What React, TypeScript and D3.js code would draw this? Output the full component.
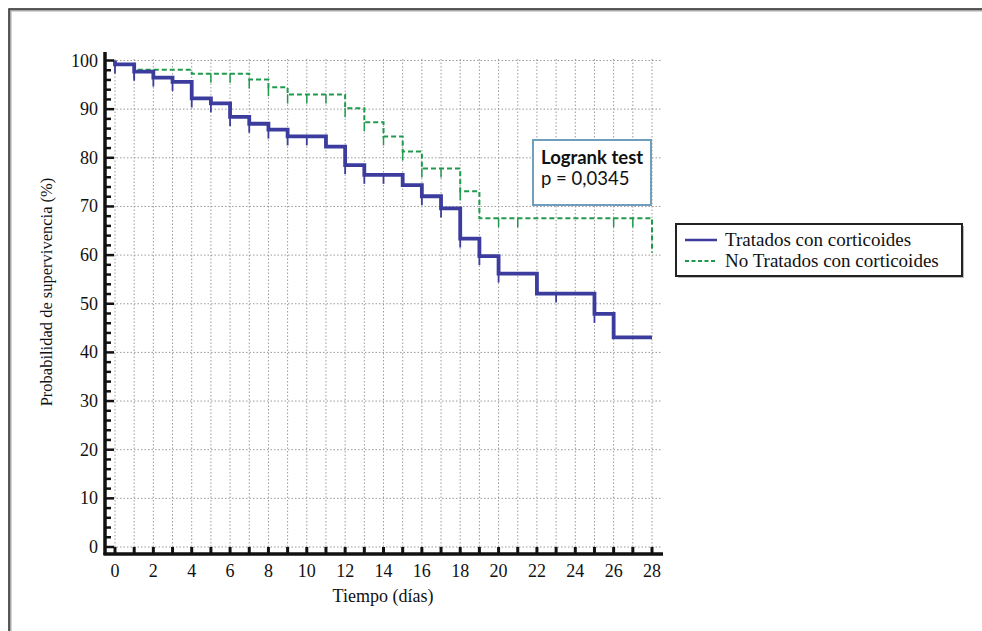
import * as d3 from 'd3';

// Survival (%) over each day interval [d, d+1), d = 0..27
const DAYS = d3.range(0, 28);
const TREATED = [99.2, 97.7, 96.5, 95.6, 92.2, 91.2, 88.4, 87.0, 85.8, 84.4, 84.4, 82.3, 78.5, 76.5, 76.5, 74.4, 72.1, 69.6, 63.4, 59.8, 56.2, 56.2, 52.1, 52.1, 52.1, 47.9, 43.1, 43.1];
const UNTREATED = [99.2, 98.1, 98.1, 98.1, 97.3, 97.3, 97.3, 96.1, 94.5, 93.0, 93.0, 93.0, 90.2, 87.3, 84.4, 81.3, 77.8, 77.8, 73.1, 67.6, 67.6, 67.6, 67.6, 67.6, 67.6, 67.6, 67.6, 67.6];
const TREATED_END = 43.1;
const UNTREATED_END = 60.5;

// censored observations (days)
const TREATED_CENSOR = [0, 1, 2, 3, 4, 5, 6, 7, 8, 9, 10, 12, 13, 14, 16, 17, 18, 19, 20, 23, 25];
const UNTREATED_CENSOR = [1, 2, 5, 6, 7, 8, 9, 10, 11, 12, 13, 14, 15, 16, 17, 18, 20, 21, 26, 27];

const X_TICKS = d3.range(0, 29, 2);
const Y_TICKS = d3.range(0, 101, 10);
const Y_MINOR = d3.range(0, 101, 2);

const SERIES_NAMES = ['Tratados con corticoides', 'No Tratados con corticoides'];
const BLUE = '#3b3c9e';
const GREEN = '#1f9a4c';

const W = 982;
const H = 631;

export default function App() {
  const x = d3.scaleLinear().domain([0, 28]).range([115, 652]);
  const y = d3.scaleLinear().domain([0, 100]).range([547, 60.5]);

  const stepPath = (vals: number[], end: number) => {
    const pts: [number, number][] = [[0, 100]];
    vals.forEach((v, i) => {
      pts.push([DAYS[i], v]);
    });
    pts.push([28, end]);
    return d3.line<[number, number]>()
      .x((d) => x(d[0]))
      .y((d) => y(d[1]))
      .curve(d3.curveStepAfter)(pts) as string;
  };
  const lvl = (vals: number[], d: number) => vals[Math.min(d, vals.length - 1)];

  const serif = '"Liberation Serif", "Times New Roman", serif';

  return (
    <svg width={W} height={H} style={{ position: 'absolute', left: 0, top: 0, background: '#fff' }}>
      {/* frame */}
      <path d={`M10,${H} V10 H${W}`} fill="none" stroke="#aaa" strokeWidth={3} />
      <path d={`M9,${H} V9 H${W}`} fill="none" stroke="#333" strokeWidth={1.5} />

      {/* grid */}
      <g stroke="#9a9a9a" strokeWidth={1} strokeDasharray="1.5,2">
        {d3.range(0, 29).map((d) => (
          <line key={'gx' + d} x1={x(d)} x2={x(d)} y1={y(0)} y2={y(100) - 3} />
        ))}
        {Y_TICKS.map((v) => (
          <line key={'gy' + v} x1={106} x2={662} y1={y(v)} y2={y(v)} />
        ))}
      </g>

      {/* curves */}
      <path d={stepPath(UNTREATED, UNTREATED_END)} fill="none" stroke={GREEN} strokeWidth={2} strokeDasharray="5,3" />
      {UNTREATED_CENSOR.map((d) => (
        <line key={'cu' + d} x1={x(d)} x2={x(d)} y1={y(lvl(UNTREATED, d))} y2={y(lvl(UNTREATED, d)) + 9} stroke={GREEN} strokeWidth={1.5} />
      ))}
      <path d={stepPath(TREATED, TREATED_END)} fill="none" stroke={BLUE} strokeWidth={3.8} />
      {TREATED_CENSOR.map((d) => (
        <line key={'ct' + d} x1={x(d)} x2={x(d)} y1={y(lvl(TREATED, d))} y2={y(lvl(TREATED, d)) + 9} stroke={BLUE} strokeWidth={1.8} />
      ))}

      {/* axes */}
      <g stroke="#111">
        <line x1={105} x2={105} y1={52} y2={555} strokeWidth={3.5} />
        <line x1={103.5} x2={663} y1={554} y2={554} strokeWidth={3.5} />
        {Y_MINOR.map((v) => (
          <line key={'yt' + v} x1={105} x2={v % 10 === 0 ? 114 : 111} y1={y(v)} y2={y(v)} strokeWidth={2.5} />
        ))}
        {d3.range(0, 29).map((d) => (
          <line key={'xt' + d} x1={x(d)} x2={x(d)} y1={554} y2={547} strokeWidth={3} />
        ))}
      </g>
      <g fontFamily={serif} fontSize={18} fill="#111">
        {Y_TICKS.map((v) => (
          <text key={'yl' + v} x={98} y={y(v) + 6} textAnchor="end">{v}</text>
        ))}
        {X_TICKS.map((d) => (
          <text key={'xl' + d} x={x(d)} y={577} textAnchor="middle">{d}</text>
        ))}
        <text x={383} y={602} textAnchor="middle">Tiempo (días)</text>
        <text transform="translate(52,292) rotate(-90)" textAnchor="middle" fontSize={16.5}>
          Probabilidad de supervivencia (%)
        </text>
      </g>

      {/* logrank box */}
      <rect x={533} y={140} width={118} height={65} fill="#fff" stroke="#6f9fbd" strokeWidth={2} />
      <text x={541} y={164} fontFamily="Lato, 'Noto Sans', sans-serif" fontWeight="bold" fontSize={18.5} fill="#111">Logrank test</text>
      <text x={541} y={185} fontFamily="Lato, 'Noto Sans', sans-serif" fontSize={18.5} fill="#111">p = 0,0345</text>

      {/* legend */}
      <rect x={678} y={226} width={286} height={52} fill="#bbb" />
      <rect x={676} y={224} width={286} height={52} fill="#fff" stroke="#222" strokeWidth={2} />
      <line x1={685} x2={717} y1={240} y2={240} stroke={BLUE} strokeWidth={2.5} />
      <line x1={685} x2={717} y1={261} y2={261} stroke={GREEN} strokeWidth={1.8} strokeDasharray="4,2.5" />
      <g fontFamily={serif} fontSize={19} fill="#111">
        <text x={725} y={246}>{SERIES_NAMES[0]}</text>
        <text x={725} y={267}>{SERIES_NAMES[1]}</text>
      </g>
    </svg>
  );
}
